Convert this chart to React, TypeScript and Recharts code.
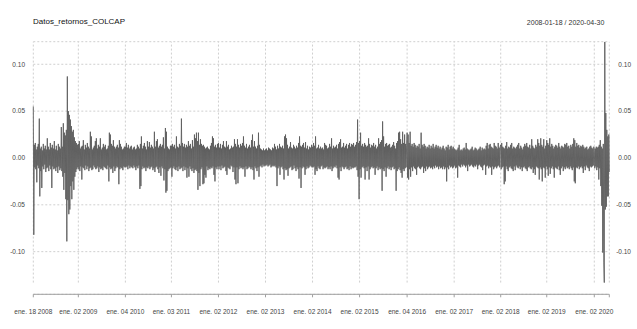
import React from "react";
import { LineChart, Line, XAxis, YAxis, CartesianGrid, ReferenceLine } from "recharts";

// Daily returns of COLCAP, in thousandths, grouped by year
const r2008 = [55,-82,14,-10,16,-12,9,-26,12,-8,15,-11,42,-41,10,-14,12,-32,8,-9,15,-12,10,-7,13,-15,9,-11,21,-10,12,-14,9,-8,16,-12,11,-32,14,-9,10,-12,18,-11,9,-14,13,-10,8,-16,15,-9,12,-13,10,-11,33,-14,12,-20,37,-34,27,-16,24,-44,30,-89,87,-45,50,-60,46,-55,41,-30,34,-44,28,-25,30,-34,22,-20,18,-15,16,-12,14,-10];
const r2009 = [15,-12,18,-14,10,-9,12,-23,13,-10,19,-11,9,-13,14,-8,11,-12,16,-9,12,-14,10,-11,28,-10,23,-13,9,-12,11,-8,13,-10,18,-12,21,-11,10,-9,14,-15,12,-10,21,-12,9,-11,11,-13,15,-9,12,-10,14,-11,9,-12,10,-8,13,-25,27,-10,25,-12,15,-11,13,-16,19,-9,12,-14,10,-11,12,-9,14,-10,11,-28,19,-12,15,-10,12,-11,9,-13,10,-9,12,-10];
const r2010 = [12,-10,16,-9,11,-12,14,-8,10,-11,12,-9,13,-10,9,-11,11,-8,12,-10,9,-13,10,-9,14,-11,12,-8,10,-33,15,-30,23,-12,10,-9,13,-11,16,-10,12,-14,9,-10,18,-11,12,-9,17,-12,11,-10,14,-9,12,-13,10,-11,28,-15,12,-10,18,-9,20,-12,11,-16,13,-10,15,-19,12,-9,14,-11,22,-24,10,-12,32,-37,28,-35,12,-14,10,-12,9,-11,13,-10];
const r2011 = [13,-20,15,-11,12,-9,14,-12,10,-13,23,-10,12,-14,11,-9,15,-12,13,-11,42,-10,16,-14,12,-9,15,-13,11,-10,14,-21,12,-11,18,-20,13,-9,15,-12,10,-14,19,-11,12,-16,25,-13,21,-12,27,-14,18,-34,27,-16,14,-30,20,-12,15,-10,13,-28,14,-27,12,-18,10,-21,11,-9,12,-13,10,-11,9,-12,13,-10,16,-11,23,-9,21,-18,12,-25,14,-10,11,-12,15,-9];
const r2012 = [16,-12,11,-9,15,-13,10,-8,14,-11,18,-10,12,-9,11,-14,18,-18,12,-10,14,-11,9,-12,10,-8,13,-9,11,-15,12,-10,20,-23,15,-28,12,-10,20,-27,14,-12,11,-9,15,-11,13,-10,16,-12,23,-10,13,-20,11,-9,15,-12,10,-11,12,-9,14,-10,11,-12,19,-10,25,-13,12,-23,18,-9,12,-11,10,-14,13,-10,27,-20,14,-9,10,-8,9,-10,8,-7,10,-9,8,-8];
const r2013 = [9,-8,10,-7,8,-9,11,-8,10,-7,9,-10,8,-9,11,-8,10,-9,15,-8,12,-10,9,-30,13,-11,10,-9,15,-18,12,-10,11,-9,13,-12,10,-23,23,-11,25,-13,21,-12,14,-19,10,-11,12,-10,17,-9,11,-13,10,-12,14,-8,12,-11,10,-14,13,-10,11,-12,16,-22,23,-10,13,-32,12,-11,14,-9,16,-10,11,-18,17,-12,10,-9,13,-11,9,-10,12,-8,11,-9,14,-10];
const r2014 = [12,-10,16,-9,13,-18,23,-12,10,-14,11,-9,14,-11,10,-12,12,-9,10,-8,11,-12,9,-10,16,-11,14,-10,13,-9,10,-12,11,-10,15,-12,12,-9,21,-14,10,-11,13,-9,11,-10,12,-8,14,-11,10,-21,15,-23,17,-10,20,-14,11,-9,12,-10,16,-12,11,-10,13,-9,15,-12,10,-11,14,-13,16,-9,12,-12,15,-10,14,-11,16,-10,12,-10,14,-9,17,-13,41,-20,16,-44];
const r2015 = [18,-12,27,-21,13,-10,15,-9,12,-11,16,-23,14,-10,12,-14,13,-9,21,-23,15,-12,11,-10,14,-9,13,-11,16,-10,12,-18,14,-11,10,-9,12,-13,21,-10,15,-12,17,-11,19,-35,39,-12,23,-14,12,-10,15,-20,16,-11,13,-9,14,-12,15,-10,11,-13,12,-10,14,-9,17,-12,13,-11,10,-35,16,-14,18,-12,27,-10,28,-13,20,-16,15,-21,28,-12,16,-14,25,-11,15,-10,13];
const r2016 = [27,-21,25,-23,16,-12,28,-20,13,-10,15,-14,12,-9,16,-11,14,-12,11,-18,13,-10,12,-9,15,-11,10,-12,27,-10,14,-9,12,-16,15,-11,13,-14,10,-9,12,-12,11,-10,14,-9,10,-11,13,-10,11,-12,15,-9,10,-11,12,-8,14,-10,11,-9,13,-12,10,-9,12,-11,9,-10,11,-12,13,-9,10,-12,8,-10,12,-25,11,-10,14,-12,9,-8,12,-10,13,-9,10,-11,12,-10];
const r2017 = [10,-8,9,-11,8,-10,9,-21,11,-8,14,-9,8,-10,9,-7,8,-9,10,-7,11,-8,9,-10,16,-8,10,-14,9,-7,8,-9,9,-8,10,-7,12,-9,8,-10,9,-8,11,-9,10,-7,8,-12,9,-8,10,-7,12,-9,8,-10,11,-13,9,-8,10,-7,9,-18,13,-9,16,-8,10,-11,14,-9,15,-10,12,-18,11,-9,10,-12,16,-10,13,-9,12,-11,10,-9,16,-8,11,-10,12];
const r2018 = [14,-12,16,-10,12,-9,11,-28,10,-25,13,-9,17,-12,10,-14,12,-10,11,-9,14,-11,16,-12,10,-14,12,-9,11,-13,10,-8,12,-10,14,-11,16,-9,10,-12,13,-10,11,-14,9,-10,12,-9,15,-11,13,-12,16,-14,12,-10,11,-9,14,-11,10,-12,20,-10,13,-16,11,-12,10,-18,14,-9,12,-10,20,-11,16,-23,13,-10,21,-12,14,-25,12,-10,20,-11,10,-21,13,-9];
const r2019 = [19,-12,16,-19,14,-10,21,-17,12,-11,15,-9,13,-12,10,-21,12,-10,14,-11,13,-12,11,-9,16,-13,12,-18,10,-11,13,-9,12,-14,11,-10,15,-12,14,-9,16,-11,12,-10,13,-12,10,-9,14,-11,12,-13,15,-10,21,-25,19,-27,12,-10,16,-11,13,-9,14,-12,11,-10,13,-9,12,-11,14,-16,12,-9,10,-13,11,-8,12,-10,9,-11,10,-14,12,-9,13,-10,11,-9,10,-8,12];
const r2020 = [8,-11,10,-9,12,-13,11,-10,12,-23,14,-11,19,-30,12,-51,10,-101,15,-112,-133,124,-55,48,-52,30,-41,23,-41,25,-15];

const yearSeries = [r2008, r2009, r2010, r2011, r2012, r2013, r2014, r2015, r2016, r2017, r2018, r2019, r2020];
const tickLabels = ["ene. 18 2008", "ene. 02 2009", "ene. 04 2010", "ene. 03 2011", "ene. 02 2012", "ene. 02 2013", "ene. 02 2014", "ene. 02 2015", "ene. 04 2016", "ene. 02 2017", "ene. 02 2018", "ene. 02 2019", "ene. 02 2020"];
const yTicks = [-0.1, -0.05, 0, 0.05, 0.1];
const titleText = "Datos_retornos_COLCAP";
const rangeText = "2008-01-18 / 2020-04-30";

const rows: { i: number; r: number }[] = [];
const starts: number[] = [];
let k = 0;
for (const arr of yearSeries) {
  starts.push(k);
  for (const v of arr) {
    rows.push({ i: k, r: v / 1000 });
    k++;
  }
}
const lastIdx = k - 1;
const xTicks = [...starts, lastIdx];
const dataMin = Math.min(...rows.map((d) => d.r));
const dataMax = Math.max(...rows.map((d) => d.r));

const FONT = '"Liberation Sans", Arial, Helvetica, sans-serif';
const GRID = "#cfcfcf";

const RightTick = (p: any) => (
  <text x={p.x + 21.7} y={p.y} dy="0.355em" textAnchor="end" fontSize={6.5} fill="#444" fontFamily={FONT}>
    {Number(p.payload.value).toFixed(2)}
  </text>
);

export default function App() {
  return (
    <div style={{ position: "absolute", left: 0, top: 0, width: 637, height: 329, background: "#fff", fontFamily: FONT }}>
      <LineChart width={637} height={329} data={rows} margin={{ top: 41.7, right: 0, bottom: 0, left: 0 }}>
        <CartesianGrid vertical={false} stroke={GRID} strokeDasharray="2 2" />
        <XAxis
          type="number"
          dataKey="i"
          domain={[0, lastIdx]}
          ticks={xTicks}
          interval={0}
          height={34.7}
          tickSize={3}
          tickMargin={11.7}
          axisLine={{ stroke: "#a0a0a0" }}
          tickLine={{ stroke: "#a0a0a0" }}
          tick={{ fontSize: 6.5, fill: "#444", fontFamily: FONT }}
          tickFormatter={(v: number) => {
            const j = starts.indexOf(v);
            return j >= 0 ? tickLabels[j] : "";
          }}
        />
        <YAxis
          type="number"
          domain={[-0.1455, 0.1241]}
          ticks={yTicks}
          width={33.3}
          axisLine={false}
          tickLine={false}
          tickSize={0}
          tickMargin={8.3}
          allowDataOverflow
          tick={{ fontSize: 6.5, fill: "#444", fontFamily: FONT }}
          tickFormatter={(v: number) => v.toFixed(2)}
        />
        <YAxis
          yAxisId="r"
          orientation="right"
          type="number"
          domain={[-0.1455, 0.1241]}
          ticks={yTicks}
          width={27.7}
          axisLine={false}
          tickLine={false}
          tickSize={0}
          tickMargin={0}
          allowDataOverflow
          tick={<RightTick />}
        />
        {xTicks.map((t) => (
          <ReferenceLine
            key={t}
            segment={[{ x: t, y: dataMin }, { x: t, y: dataMax }]}
            stroke={GRID}
            strokeDasharray="2 2"
          />
        ))}
        <Line type="linear" dataKey="r" stroke="#5e5e5e" strokeWidth={0.9} dot={false} isAnimationActive={false} />
      </LineChart>
      <svg width={637} height={329} style={{ position: "absolute", left: 0, top: 0, pointerEvents: "none" }}>
        <text x={33} y={24.3} fontSize={8} fill="#111" fontFamily={FONT}>{titleText}</text>
        <text x={604.3} y={24.5} fontSize={7} fill="#333" textAnchor="end" fontFamily={FONT}>{rangeText}</text>
      </svg>
    </div>
  );
}
